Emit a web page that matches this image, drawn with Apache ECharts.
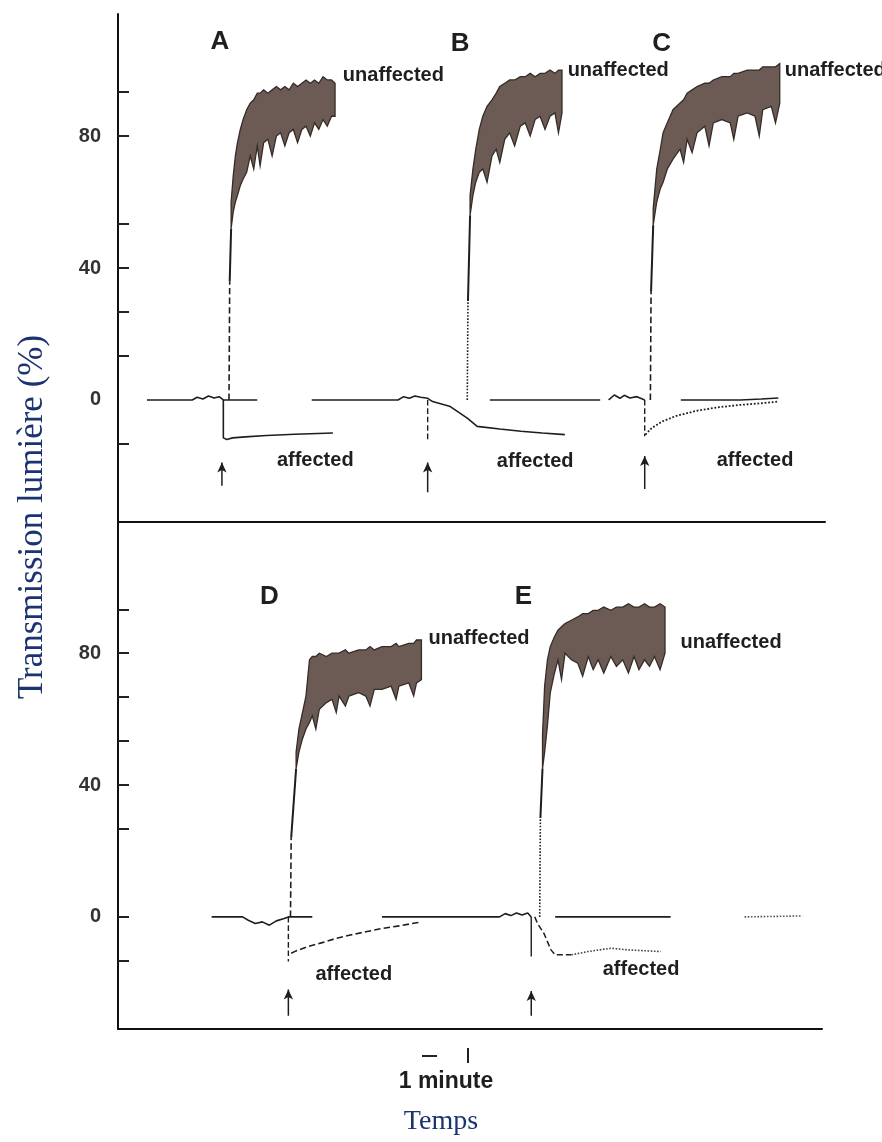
<!DOCTYPE html>
<html><head><meta charset="utf-8">
<script src="https://cdn.jsdelivr.net/npm/echarts@6/dist/echarts.min.js"></script>
<style>html,body{margin:0;padding:0;background:#fff}#c{width:882px;height:1142px}</style>
</head><body><div id="c"></div>
<script>
// ---------- axis ticks / labels ----------
const yLabelValues = [0, 40, 80];
const topTickValues = [-13.33, 13.33, 26.67, 40, 53.33, 80, 93.33];
const bottomTickValues = [-13.33, 0, 26.67, 40, 53.33, 66.67, 80, 93.33];

// ---------- TOP PANEL (A, B, C) : [time, value] ----------
const baseA = [[4.1,0],[10.5,0],[11.2,0.8],[12.0,0.3],[12.8,1.2],[13.6,0.6],[14.3,1],[14.9,0],[19.7,0]];
const baseB = [[27.4,0],[39.6,0],[40.4,1],[41.2,0.5],[42.0,1.2],[42.8,0.8],[43.8,0.5],[44.5,-0.5],[47,-2],[49.4,-5.5],[50.8,-8],[54,-8.8],[57,-9.5],[60,-10],[63.2,-10.5]];
const baseB2 = [[52.6,0],[68.2,0]];
const baseCpre = [[69.4,0],[70.2,1.5],[71.0,0.5],[71.6,1.4],[72.4,0.6],[73.4,1],[74.5,0]];
const baseC = [[79.6,0],[88,0],[91,0.3],[93.4,0.6]];
const affA = [[14.9,0],[14.9,-11.5],[15.4,-12],[16.2,-11.5],[18,-11.2],[21,-10.8],[25,-10.4],[30.4,-10]];
const spikeB = [[43.8,0],[43.8,-12]];
const spikeC = [[74.5,0],[74.5,-11]];
const affC = [[74.6,-10.5],[75.5,-8.5],[77,-6.5],[79,-4.8],[82,-3.2],[85,-2.2],[88,-1.5],[91,-1],[93.4,-0.5]];
const riseAdash = [[15.7,0],[15.8,36]];
const riseAsolid = [[15.8,36],[16.0,52]];
const riseBdash = [[49.4,0],[49.5,30]];
const riseBsolid = [[49.5,30],[49.8,56]];
const riseCdash = [[75.3,0],[75.4,33]];
const riseCsolid = [[75.4,33],[75.7,53]];
// bands: [time, lower, upper]
const bandA = [[16.0,52,60],[16.3,57,68],[16.6,60,74],[16.9,62,78],[17.3,65,82],[17.7,67,85],[18.2,69,88],[18.7,74,90],[19.2,70,91],[19.7,77,93],[20.1,71,93],[20.6,78,94],[21.2,79,93],[21.8,74,94],[22.4,80,95],[23.0,81,94],[23.6,77,95],[24.2,81,94],[24.8,82,96],[25.4,78,95],[26.0,82,96],[26.6,83,97],[27.2,80,96],[27.8,84,97],[28.4,82,96],[29.0,85,98],[29.6,83,97],[30.2,86,97],[30.7,86,96]];
const bandB = [[49.8,56,62],[50.2,62,70],[50.6,66,76],[51.1,69,82],[51.6,70,86],[52.2,66,89],[52.9,74,91],[53.5,76,93],[54.0,72,95],[54.7,79,96],[55.4,81,97],[56.1,77,97],[56.9,83,98],[57.6,84,98],[58.3,80,99],[59.0,85,98],[59.7,86,99],[60.4,82,99],[61.1,86,100],[61.8,87,99],[62.3,81,100],[62.8,87,100]];
const bandC = [[75.7,53,58],[76.2,60,70],[76.7,64,76],[77.1,66,81],[77.7,70,84],[78.5,73,88],[79.5,76,90],[80.0,72,91],[80.5,79,93],[81.2,75,94],[81.9,81,95],[83.0,83,96],[83.6,77,96],[84.2,84,97],[85.4,85,98],[86.6,84,98],[87.1,79,99],[87.7,86,99],[89.0,87,100],[90.1,86,100],[90.7,80,100],[91.2,88,101],[92.4,89,101],[93.0,84,101],[93.6,90,102]];
// arrows: [time, from, to]
const arrowsTop = [[14.7,-26,-19],[43.8,-28,-19],[74.5,-27,-17]];
// labels: [text, time, value]
const lettersTop = [['A',14.4,108.5],['B',48.4,108],['C',76.9,108]];
const unaffTop = [['unaffected',31.8,98.5],['unaffected',63.6,100],['unaffected',94.3,100]];
const affTop = [['affected',27.9,-18.2],['affected',59.0,-18.8],['affected',90.1,-18.2]];

// ---------- BOTTOM PANEL (D, E) ----------
const baseD = [[13.3,0],[17.7,0],[18.5,-1],[19.5,-2],[20.5,-1.5],[21.5,-2.5],[22.5,-1.2],[23.6,-0.5],[24.2,0],[27.6,0]];
const baseMid = [[37.5,0],[54.2,0],[55.0,1],[55.8,0.4],[56.6,1.2],[57.4,0.6],[58.2,1.2],[58.7,0]];
const baseE = [[62.1,0],[78.5,0]];
const baseEnd = [[89.0,0],[97.2,0.3]];
const spikeD = [[24.2,0],[24.2,-13.5]];
const affD = [[24.6,-11],[25.3,-10.3],[27,-9],[29,-7.8],[31,-6.5],[33,-5.5],[35.2,-4.5],[37.5,-3.5],[40,-2.7],[43.1,-1.5]];
const spikeE = [[58.7,0],[58.7,-12]];
const affE = [[59.2,0],[59.6,-2],[60.5,-5],[61.5,-10],[62.1,-11.5],[64.4,-11.5]];
const affE2 = [[64.4,-11.5],[66.8,-10.5],[70.0,-9.5],[72.4,-10],[77.1,-10.5]];
const riseDdash = [[24.5,0],[24.6,24]];
const riseDsolid = [[24.6,24],[25.3,45]];
const riseEdash = [[59.9,0],[60.0,30]];
const riseEsolid = [[60.0,30],[60.3,45]];
const bandD = [[25.3,45,50],[25.7,50,57],[26.2,54,62],[26.7,57,67],[27.2,59,78],[27.6,61,79],[28.1,57,79],[28.6,63,80],[29.6,65,79],[30.4,66,80],[31.0,62,80],[31.4,67,80],[32.3,64,81],[32.8,67,80],[34.2,68,81],[35.2,67,81],[35.8,64,82],[36.4,69,81],[37.5,69,82],[38.8,70,82],[39.5,66,83],[39.9,70,82],[41.3,71,83],[42.0,67,83],[42.4,71,84],[43.1,72,84]];
const bandE = [[60.3,45,55],[60.6,50,70],[61.0,58,78],[61.4,68,82],[62.0,74,85],[62.5,78,87],[63.0,72,88],[63.5,80,89],[64.4,78,90],[65.3,77,91],[66.0,73,92],[66.8,79,92],[67.5,75,93],[68.2,78,93],[69.0,74,94],[70.0,79,93],[70.8,76,94],[71.7,78,94],[72.5,74,95],[73.3,79,94],[74.0,75,94],[74.8,78,95],[75.5,76,94],[76.2,79,94],[77.0,75,95],[77.7,80,94]];
const arrowsBottom = [[24.2,-30,-22],[58.7,-30,-22.5]];
const lettersBottom = [['D',21.5,97],['E',57.6,97]];
const unaffBottom = [['unaffected',44.1,84.5],['unaffected',79.9,83.3]];
const affBottom = [['affected',33.5,-17.6],['affected',74.3,-16]];

// ---------- build ----------
const INK = '#1e1e1e';
const series = [];
function line(p, data, type, width, color) {
  series.push({type:'line', xAxisIndex:p, yAxisIndex:p, data:data, symbol:'none', silent:true,
    lineStyle:{color:color||INK, width:width||1.6, type:type||'solid'}, z:3});
}
function band(p, pts) {
  series.push({type:'custom', xAxisIndex:p, yAxisIndex:p, coordinateSystem:'cartesian2d', silent:true,
    data:[[pts[0][0], pts[0][1]]], z:4,
    renderItem:function(params, api){
      const up = pts.map(q => api.coord([q[0], q[2]]));
      const lo = pts.slice().reverse().map(q => api.coord([q[0], q[1]]));
      return {type:'polygon', shape:{points:up.concat(lo)}, style:{fill:'#6b5b54', stroke:'#352c28', lineWidth:1.3}};
    }});
}
function arrows(p, list) {
  list.forEach(a => series.push({type:'line', xAxisIndex:p, yAxisIndex:p, silent:true, showSymbol:true,
    data:[{value:[a[0],a[1]], symbol:'none'}, {value:[a[0],a[2]], symbol:'arrow', symbolSize:[7,10]}],
    lineStyle:{color:INK, width:1.5}, itemStyle:{color:INK}, z:3}));
}
function labels(p, list, size, align) {
  series.push({type:'scatter', xAxisIndex:p, yAxisIndex:p, silent:true, symbolSize:0,
    itemStyle:{color:'#1a1a1a', opacity:1},
    data:list.map(l => ({value:[l[1], l[2]], name:l[0]})),
    label:{show:true, position:'top', distance:0, formatter:function(d){return d.name;}, align:align, verticalAlign:'middle',
      fontFamily:'Liberation Sans', fontWeight:'bold', fontSize:size, color:'#1f1f1f', opacity:1, textBorderWidth:0},
    labelLayout:{hideOverlap:false}, z:5});
}
// top
line(0, baseA); line(0, baseB); line(0, baseB2); line(0, baseCpre); line(0, baseC);
line(0, affA); line(0, spikeB, 'dashed', 1.4); line(0, spikeC, 'dashed', 1.4); line(0, affC, 'dotted', 1.8);
line(0, riseAdash, 'dashed', 1.6); line(0, riseAsolid, 'solid', 2);
line(0, riseBdash, 'dotted', 1.6); line(0, riseBsolid, 'solid', 2);
line(0, riseCdash, 'dashed', 1.6); line(0, riseCsolid, 'solid', 2);
band(0, bandA); band(0, bandB); band(0, bandC);
arrows(0, arrowsTop);
labels(0, lettersTop, 26, 'center'); labels(0, unaffTop, 20, 'left'); labels(0, affTop, 20, 'center');
// bottom
line(1, baseD); line(1, baseMid); line(1, baseE); line(1, baseEnd, 'dotted', 1.6, '#555');
line(1, spikeD, 'dashed', 1.4); line(1, affD, 'dashed', 1.6);
line(1, spikeE, 'solid', 1.4); line(1, affE, 'dashed', 1.5); line(1, affE2, 'dotted', 1.6, '#444');
line(1, riseDdash, 'dashed', 1.6); line(1, riseDsolid, 'solid', 2);
line(1, riseEdash, 'dotted', 1.6); line(1, riseEsolid, 'solid', 2);
band(1, bandD); band(1, bandE);
arrows(1, arrowsBottom);
labels(1, lettersBottom, 26, 'center'); labels(1, unaffBottom, 20, 'left'); labels(1, affBottom, 20, 'center');

function yAxis(i, min, max, ticks) {
  return {type:'value', gridIndex:i, min:min, max:max, position:'left',
    axisLine:{show:true, lineStyle:{color:'#111', width:2}},
    axisTick:{show:true, inside:true, length:11, customValues:ticks, lineStyle:{color:'#222', width:2}},
    axisLabel:{show:true, customValues:yLabelValues, margin:17, fontFamily:'Liberation Sans', fontWeight:'bold', fontSize:20, color:'#333'},
    splitLine:{show:false}};
}
function xAxis(i) {
  return {type:'value', gridIndex:i, min:0, max:100,
    axisLine:{show:true, onZero:false, lineStyle:{color:'#111', width:2}},
    axisTick:{show:false}, axisLabel:{show:false}, splitLine:{show:false}};
}
const chart = echarts.init(document.getElementById('c'));
chart.setOption({
  animation:false,
  backgroundColor:'#fff',
  grid:[{left:118, width:707, top:14, height:508}, {left:118, width:704, top:522, height:507}],
  xAxis:[xAxis(0), xAxis(1)],
  yAxis:[yAxis(0, -37, 117, topTickValues), yAxis(1, -34, 119.8, bottomTickValues)],
  series:series,
  graphic:[
    {type:'text', x:33, y:517, rotation:Math.PI/2, style:{text:'Transmission lumière (%)', font:'35px "Liberation Serif"', fill:'#1b3370', align:'center', verticalAlign:'middle'}},
    {type:'text', x:441, y:1122, style:{text:'Temps', font:'28px "Liberation Serif"', fill:'#1b3370', align:'center', verticalAlign:'middle'}},
    {type:'text', x:446, y:1082, style:{text:'1 minute', font:'bold 23px "Liberation Sans"', fill:'#1e1e1e', align:'center', verticalAlign:'middle'}},
    {type:'line', shape:{x1:422, y1:1056, x2:437, y2:1056}, style:{stroke:'#222', lineWidth:2}},
    {type:'line', shape:{x1:468, y1:1048, x2:468, y2:1063}, style:{stroke:'#222', lineWidth:2}}
  ]
});
</script></body></html>
